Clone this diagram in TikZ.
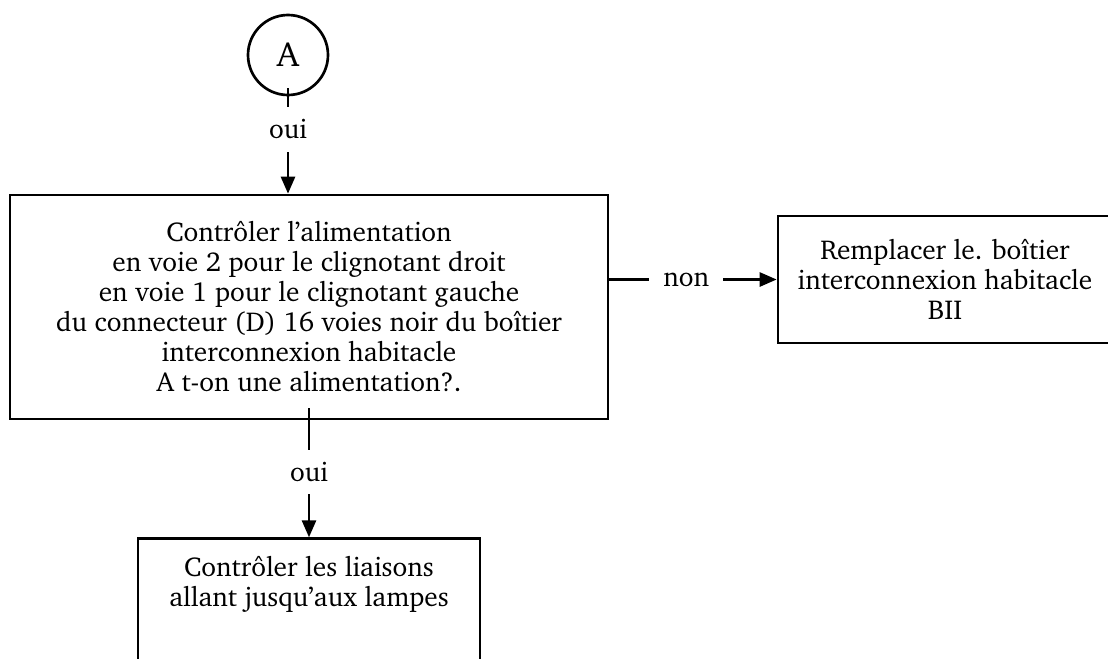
\documentclass[tikz,border=0pt]{standalone}
\usepackage[T1]{fontenc}
\usepackage{charter}
\usetikzlibrary{arrows.meta, positioning}
\newlength\px
\setlength\px{0.75pt}
\tikzset{
  bloc/.style={rectangle, draw=black, line width=2pt, fill=white,
    align=center, font=\fontsize{20.5}{22.5}\selectfont, inner sep=0pt,
    execute at begin node={\setlength{\baselineskip}{22.5pt}}},
  connecteur/.style={circle, draw=black, line width=2pt, fill=white,
    minimum size=80\px, inner sep=0pt, font=\fontsize{26}{30}\selectfont},
  fleche/.style={-{Triangle[length=12.75pt, width=10.5pt]}, line width=2pt},
  etiquette/.style={fill=white, font=\fontsize{20.5}{22.5}\selectfont, inner sep=0pt}
}
\begin{document}
\begin{tikzpicture}[x=\px, y=-\px]
    \clip (0,0) rectangle (1108,658);
    \node[connecteur] (A) at (288,55) {A};
    \node[bloc, minimum width=598\px, minimum height=224\px] (ctrl) at (309,307)
      {Contr\^oler l'alimentation\\ en voie 2 pour le clignotant droit\\
       en voie 1 pour le clignotant gauche\\ du connecteur (D) 16 voies noir du bo\^{\i}tier\\
       interconnexion habitacle\\ A t-on une alimentation?.};
    \node[bloc, minimum width=334\px, minimum height=127\px] (remp) at (945,279.5)
      {Remplacer le. bo\^{\i}tier\\ interconnexion habitacle\\ BII};
    \node[bloc, minimum width=342\px, inner ysep=18\px, below=87.75pt of ctrl] (liaisons)
      {Contr\^oler les liaisons\\ allant jusqu'aux lampes\\[100\px] \mbox{}};

    \draw[fleche] ([yshift=6pt]A.south) -- node[etiquette, pos=0.39, minimum height=33.75pt]{oui} (A.south |- ctrl.north);
    \draw[fleche] ([yshift=9pt]ctrl.south) -- node[etiquette, pos=0.49, minimum height=33pt]{oui} (liaisons.north);
    \draw[fleche] (ctrl.east |- remp.west) -- node[etiquette, pos=0.46, inner xsep=10.5pt]{non} (remp.west);
  \end{tikzpicture}
\end{document}
